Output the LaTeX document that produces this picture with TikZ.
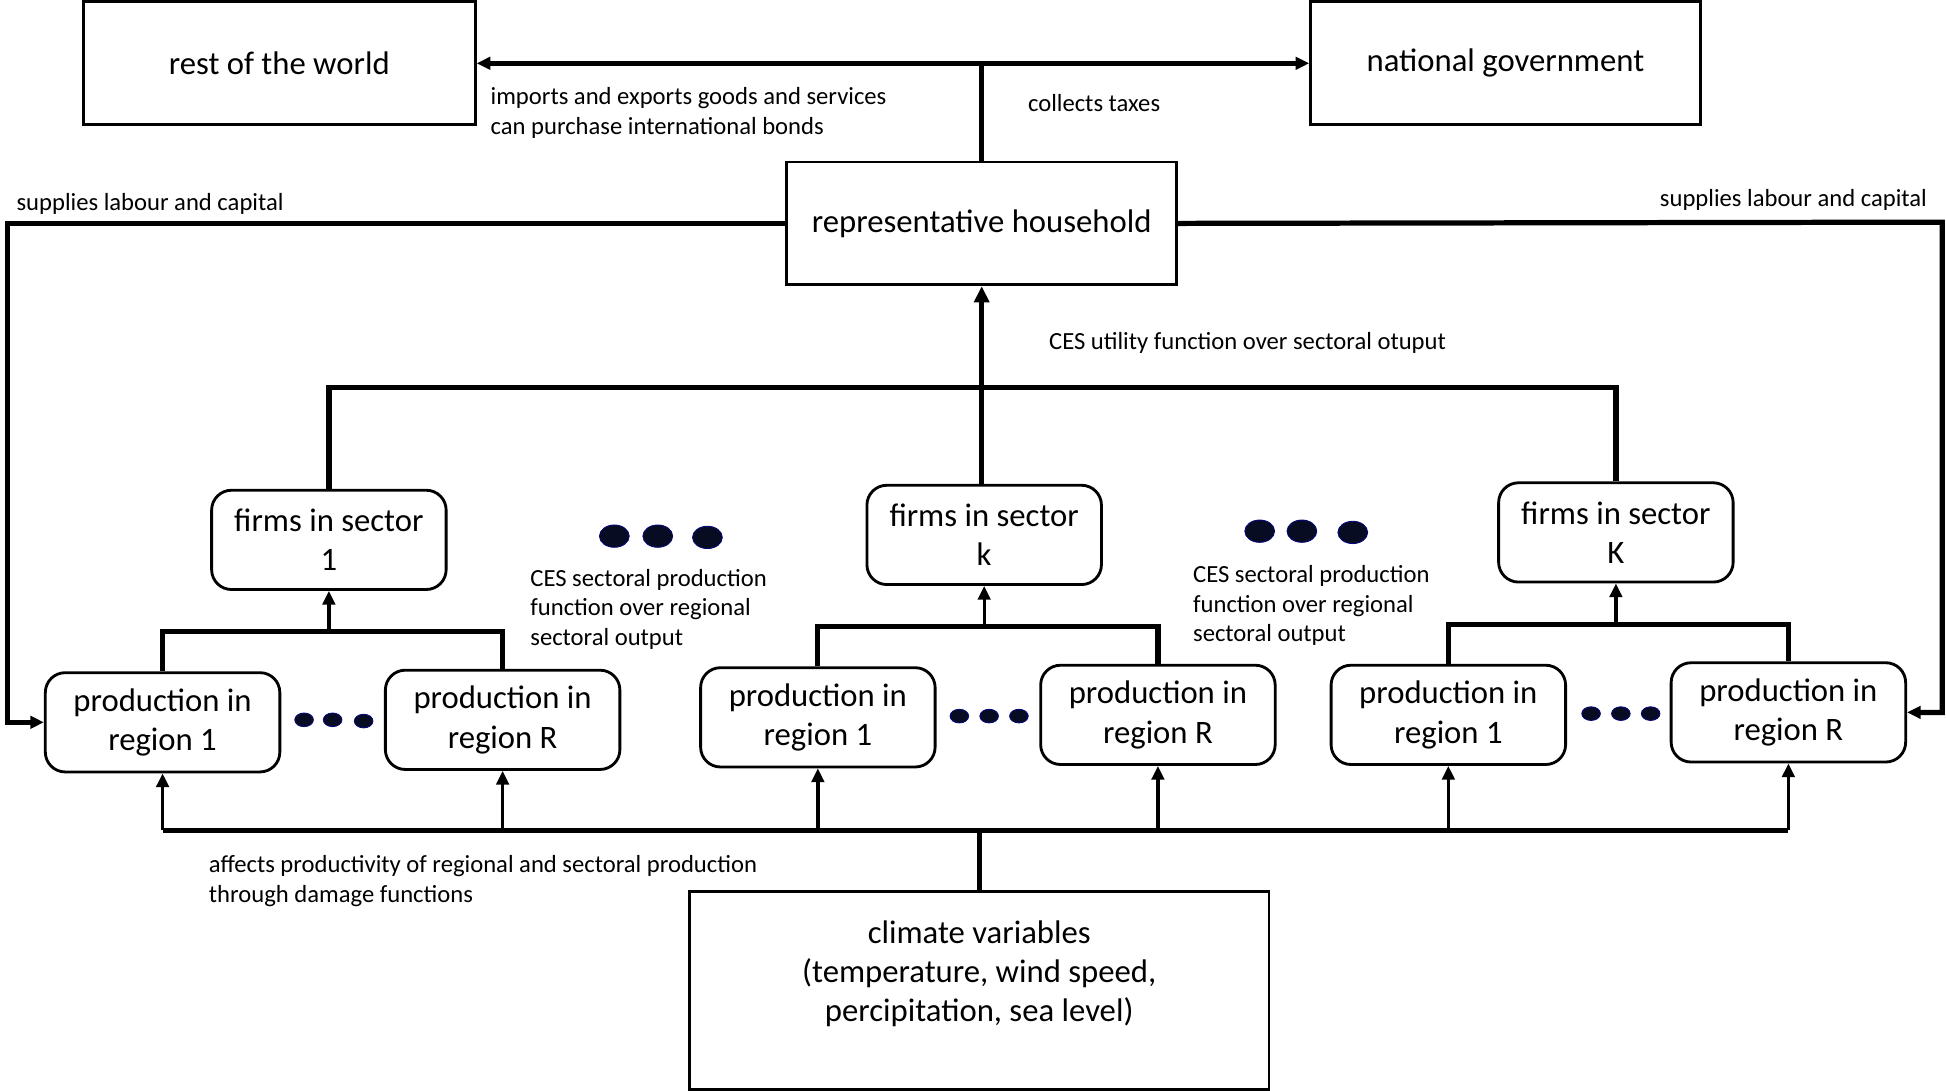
\documentclass[tikz,border=0pt]{standalone}
\usepackage{fontspec}
\setmainfont{Carlito}
\usepackage{xcolor}
\usetikzlibrary{arrows.meta,shapes.geometric,calc}
\definecolor{navy}{RGB}{8,12,35}

\begin{document}
\begin{tikzpicture}[x=0.02cm,y=-0.02cm,
    box/.style={draw,line width=1.3pt,minimum width=6.3cm,minimum height=1.98cm,align=center,font=\fontsize{15}{18}\selectfont},
    rbox/.style={draw,line width=1.3pt,rounded corners=0.32cm,minimum width=3.78cm,minimum height=1.6cm,align=center,inner sep=0pt,font=\fontsize{15}{18}\selectfont},
    lbl/.style={anchor=west,align=left,inner sep=0pt,font=\fontsize{11.3}{13.6}\selectfont},
    heavy/.style={line width=2.4pt},
    light/.style={line width=1.5pt},
    tip/.style={-{Triangle[length=0.22cm,width=0.2cm]}},
    bigdot/.style={ellipse,fill=navy,draw=navy!60!blue,minimum width=0.48cm,minimum height=0.36cm,inner sep=0pt},
    smalldot/.style={bigdot,minimum width=0.3cm,minimum height=0.22cm}]
    \useasboundingbox (0,0) rectangle (1568,879);
    \node[box,minimum width=6.32cm] (row) at (225,51) {rest of the world};
    \node[box,minimum width=6.28cm] (gov) at (1213,51) {national government};
    \node[box,minimum width=6.28cm] (hh) at (791,180) {representative household};
    \node[rbox] (f1) at (265,435) {firms in sector\\1};
    \node[rbox] (fk) at (793,431) {firms in sector\\k};
    \node[rbox] (fK) at (1302,429) {firms in sector\\K};
    \node[rbox] (r11) at (131,582) {production in\\region 1};
    \node[rbox] (r1R) at (405,580) {production in\\region R};
    \node[rbox] (r21) at (659,578) {production in\\region 1};
    \node[rbox] (r2R) at (933,576) {production in\\region R};
    \node[rbox] (r31) at (1167,576) {production in\\region 1};
    \node[rbox] (r3R) at (1441,574) {production in\\region R};
    \node[box,minimum width=9.34cm,minimum height=3.2cm,text depth=0.62cm] (clim) at (789,798) {climate variables\\(temperature, wind speed,\\percipitation, sea level)};

    \node[lbl] (trade) at (395,91) {imports and exports goods and services\\can purchase international bonds};
    \node[lbl] (tax) at (828,83) {collects taxes};
    \node[lbl] (supl) at (13,164) {supplies labour and capital};
    \node[lbl,anchor=east] (supr) at (1553,161) {supplies labour and capital};
    \node[lbl] (util) at (845,276) {CES utility function over sectoral otuput};
    \node[lbl] (ces1) at (427,491) {CES sectoral production\\function over regional\\sectoral output};
    \node[lbl] (ces2) at (961,488) {CES sectoral production\\function over regional\\sectoral output};
    \node[lbl] (dam) at (168,710) {affects productivity of regional and sectoral production\\through damage functions};

    \foreach \x/\y [count=\i] in {495/432,530/432,570/433,1015/428,1049/428,1090/429}
        \node[bigdot] (bd\i) at (\x,\y) {};
    \foreach \x/\y [count=\i] in {245/580,268/580,293/581,773/577,797/577,821/577,1282/575,1306/575,1330/575}
        \node[smalldot] (sd\i) at (\x,\y) {};

    \coordinate (lc) at (6,180);
    \coordinate (rc) at (1565,179);
    \coordinate (sbus) at (791,312);
    \coordinate (b1) at (265,509);
    \coordinate (b2) at (793,505);
    \coordinate (b3) at (1302,503);
    \coordinate (cbus) at (789,669);

    \draw[heavy,{Triangle[length=0.22cm,width=0.2cm]}-{Triangle[length=0.22cm,width=0.2cm]}] (row.east) -- (gov.west);
    \draw[heavy] (hh.north) -- (hh.north |- row.east);
    \draw[heavy,tip] (hh.west) -- (lc) |- (r11.west);
    \draw[heavy,tip] (hh.east) -- (rc) |- (r3R.east);
    \draw[heavy] (f1.north) |- (sbus) -| (fK.north);
    \draw[heavy,-{Triangle[length=0.26cm,width=0.24cm]}] (hh.south |- fk.north) -- (hh.south);
    \draw[heavy] (r11.north) |- (b1) -| (r1R.north);
    \draw[heavy] (r21.north) |- (b2) -| (r2R.north);
    \draw[heavy] (r31.north) |- (b3) -| (r3R.north);
    \draw[light,tip] (b1) -- (f1.south);
    \draw[light,tip] (b2) -- (fk.south);
    \draw[light,tip] (b3) -- (fK.south);
    \draw[heavy] (clim.north) -- (cbus);
    \draw[heavy] (r11.south |- cbus) -- (r3R.south |- cbus);
    \foreach \r in {r11,r1R,r21,r2R,r31,r3R}
        \draw[light,tip] (\r.south |- cbus) -- (\r.south);
\end{tikzpicture}
\end{document}
